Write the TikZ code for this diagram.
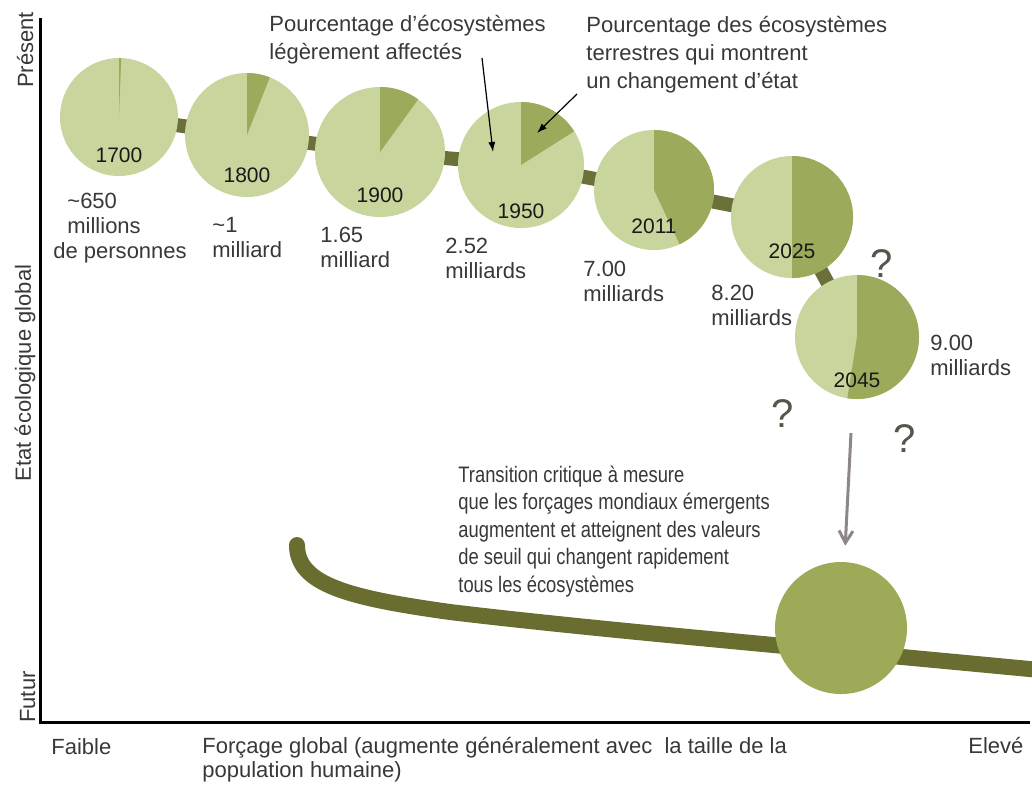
\documentclass[tikz,border=0pt]{standalone}
\usepackage{fontspec}
\setmainfont{Liberation Sans}
\newfontfamily\narrowfont{Liberation Sans}[FakeStretch=0.82]
\usetikzlibrary{arrows.meta,backgrounds}

\definecolor{pielight}{HTML}{C8D59C}
\definecolor{piedark}{HTML}{9CAB5B}
\definecolor{chainolive}{HTML}{6B7039}
\definecolor{curveolive}{HTML}{6A6D30}
\definecolor{critgreen}{HTML}{9EAA58}
\definecolor{textgray}{HTML}{383838}
\definecolor{qgray}{HTML}{55554A}
\definecolor{arrowgray}{HTML}{8E8787}

\def\pxsize{0.5pt}

\begin{document}
\begin{tikzpicture}[x=\pxsize,y=-\pxsize,font=\fontsize{11}{12.5}\selectfont,text=textgray]
\tikzstyle{pie}=[circle,fill=pielight,inner sep=0pt,outer sep=0pt]
\tikzstyle{wedge}=[fill=piedark]
\tikzstyle{year}=[anchor=base,inner sep=0pt,text=black!90,font=\fontsize{10.5}{12}\selectfont]
\tikzstyle{people}=[anchor=base west,align=left,inner sep=0pt]
\tikzstyle{annot}=[anchor=base west,align=left,inner sep=0pt,font=\fontsize{11}{14}\selectfont]
\tikzstyle{chain bar}=[draw=chainolive,line width=7pt]
\tikzstyle{note arrow}=[-{Latex[length=5pt,width=3.5pt]},line width=0.6pt,draw=black]
\tikzstyle{query}=[anchor=base,inner sep=0pt,text=qgray,font=\fontsize{20}{20}\selectfont]
\tikzstyle{axis label}=[rotate=90,anchor=base,inner sep=0pt]

\useasboundingbox (0,0) rectangle (1032,784);

% Draw the axes
\draw[line width=1.5pt] (40,18) -- (40,722) -- (1030,722);

% Draw the pies, one per date
\foreach \name/\x/\y/\r/\part/\dy in {1700/119/117/59/0.6/45,1800/247/135/62/6/47,1900/380/152/65/10/50,1950/521/165/63/16/53,2011/654/190/60/43/43,2025/792/217/61/50/41,2045/857/337/62/52.5/50}
{
  \node[pie,minimum size=\r pt] (p\name) at (\x,\y) {};
  \fill[wedge] (p\name.center) -- (p\name.north) arc[start angle=90,delta angle=-3.6*\part,radius=\r*0.5pt] -- cycle;
  \node[year] (y\name) at (\x,\y+\dy) {\name};
}

% Join the pies with the thick bar
\begin{scope}[on background layer]
\foreach \source/\dest in {1700/1800,1800/1900,1900/1950,1950/2011,2011/2025,2025/2045}
  \draw[chain bar] (p\source.center) -- (p\dest.center);
\end{scope}

% Population under each pie (placed at the last line)
\node[people] (n1700) at (53,258) {\hspace*{7pt}\textasciitilde650\\\hspace*{7pt}millions\\de personnes};
\node[people] (n1800) at (212,257) {\textasciitilde1\\milliard};
\node[people] (n1900) at (320,267) {1.65\\milliard};
\node[people] (n1950) at (445,278) {2.52\\milliards};
\node[people] (n2011) at (583,301) {7.00\\milliards};
\node[people] (n2025) at (711,325) {8.20\\milliards};
\node[people] (n2045) at (930,375) {9.00\\milliards};

% Annotate the pies
\node[annot] (slight) at (269,59) {Pourcentage d’écosystèmes\\légèrement affectés};
\node[annot] (shift) at (586,88) {Pourcentage des écosystèmes\\terrestres qui montrent\\un changement d’état};
\coordinate (slightfrom) at (482,58);
\coordinate (slightto) at (493,152);
\coordinate (shiftfrom) at (577,94);
\coordinate (shiftto) at (537,133);
\draw[note arrow] (slightfrom) -- (slightto);
\draw[note arrow] (shiftfrom) -- (shiftto);

% Question marks
\node[query] (q1) at (882,277) {?};
\node[query] (q2) at (783,427) {?};
\node[query] (q3) at (905,452) {?};

% The future state and the critical transition
\draw[line width=8pt,curveolive,line cap=round] (297,545) .. controls (297,585) and (350,598) .. (450,612) .. controls (600,630) and (800,647) .. (1040,670);
\node[circle,fill=critgreen,minimum size=66pt,inner sep=0pt] (crit) at (841,628) {};
\coordinate (critfrom) at (851,433);
\draw[-{Straight Barb[length=6pt,width=7pt]},line width=1.5pt,arrowgray,shorten >=8pt] (critfrom) -- (crit);
\node[anchor=base west,align=left,inner sep=0pt,font={\narrowfont\fontsize{11.2}{13.75}\selectfont}] (crittext) at (458,592) {Transition critique à mesure\\que les forçages mondiaux émergents\\augmentent et atteignent des valeurs\\de seuil qui changent rapidement\\tous les écosystèmes};

% Annotate the axes
\node[axis label] (present) at (33,50) {Présent};
\node[axis label] (state) at (31,373) {Etat écologique global};
\node[axis label] (future) at (35,697) {Futur};
\node[anchor=base west,inner sep=0pt] (low) at (51,754) {Faible};
\node[anchor=base west,align=left,inner sep=0pt,font=\fontsize{11}{12}\selectfont] (forcing) at (202,777) {Forçage global (augmente généralement avec \ la taille de la\\population humaine)};
\node[anchor=base west,inner sep=0pt] (high) at (968,753) {Elevé};
\end{tikzpicture}
\end{document}
